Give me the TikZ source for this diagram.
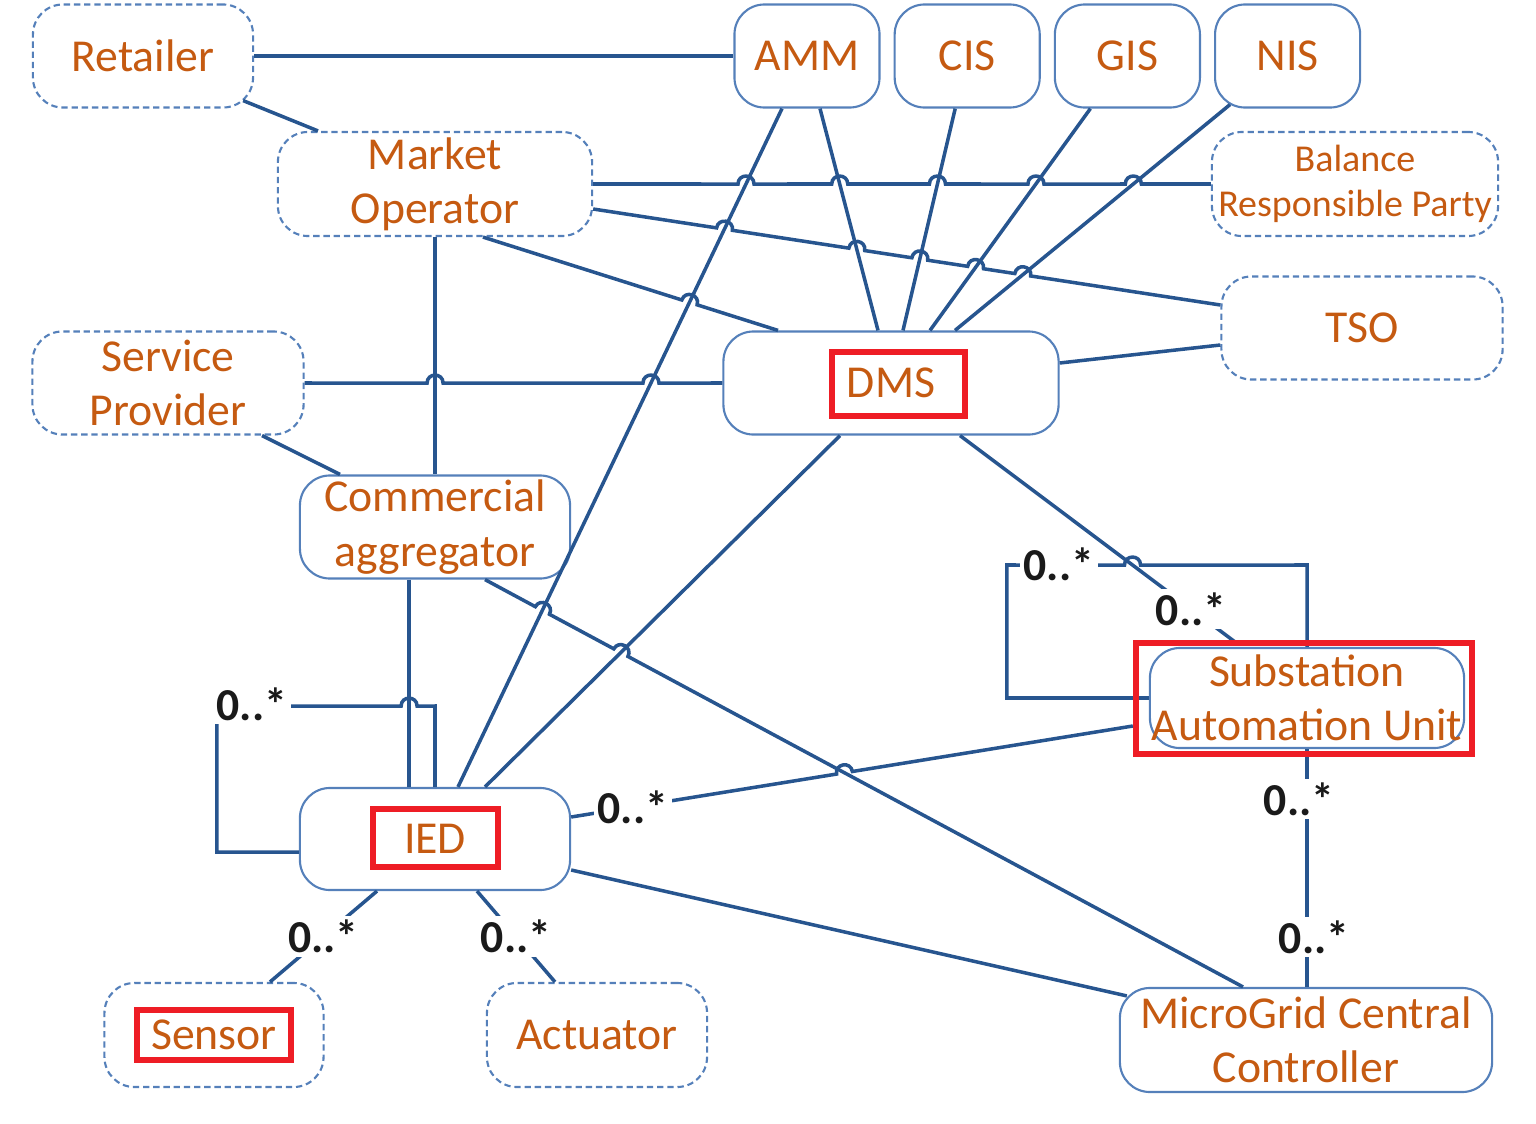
\documentclass[tikz,border=0pt]{standalone}
\usepackage{fontspec}
\setmainfont{Carlito}
\usetikzlibrary{positioning,calc}

\definecolor{linkblue}{HTML}{27558F}
\definecolor{boxblue}{HTML}{5580BA}
\definecolor{txtorange}{HTML}{C55A11}
\definecolor{hlred}{HTML}{EE1D25}
\definecolor{multblack}{HTML}{1A1A1A}

% line hop over a crossing point #1, on a line from #2 to #3
\newcommand{\hopover}[3]{-- ($(#1)!0.08cm!(#2)$) to[hop] ($(#1)!0.08cm!(#3)$)}

\begin{document}
\begin{tikzpicture}[x=0.01cm, y=-0.01cm,
    roundbox/.style={rectangle, rounded corners=0.3cm, draw=boxblue, line width=0.6pt, text=txtorange, font=\fontsize{13}{15.4}\selectfont, align=center, inner sep=0pt},
    dashbox/.style={roundbox, dash pattern=on 1.8pt off 1.1pt},
    link/.style={draw=linkblue, line width=1pt},
    hop/.style={bend left=90, looseness=1.7},
    mult/.style={fill=white, text=multblack, font=\fontsize{13}{15}\selectfont\bfseries, inner sep=1pt},
    hlbox/.style={draw=hlred, line width=1.9pt}
    ]
        \useasboundingbox (0,0) rectangle (1536,1124);

        %Nodes
        \node[dashbox, minimum width=2.2cm, minimum height=1.03cm]
            (ret) at (143,56) {Retailer};
        \node[dashbox, minimum width=3.14cm, minimum height=1.04cm]
            (mo) at (435,184) {Market\\Operator};
        \node[dashbox, minimum width=2.71cm, minimum height=1.03cm]
            (sp) at (168,383) {Service\\Provider};
        \node[roundbox, minimum width=2.7cm, minimum height=1.03cm]
            (ca) at (435,527) {Commercial\\aggregator};
        \node[roundbox, minimum width=2.7cm, minimum height=1.02cm]
            (ied) at (435,839) {IED};
        \node[dashbox, minimum width=2.19cm, minimum height=1.04cm]
            (sen) at (214,1035) {Sensor};
        \node[dashbox, minimum width=2.2cm, minimum height=1.04cm]
            (act) at (597,1035) {Actuator};
        \node[roundbox, minimum width=1.45cm, minimum height=1.03cm]
            (amm) at (807,56) {AMM};
        \node[roundbox, minimum width=1.45cm, minimum height=1.03cm]
            (cis) [right=0.13cm of amm] {CIS};
        \node[roundbox, minimum width=1.45cm, minimum height=1.03cm]
            (gis) [right=0.13cm of cis] {GIS};
        \node[roundbox, minimum width=1.45cm, minimum height=1.03cm]
            (nis) [right=0.13cm of gis] {NIS};
        \node[dashbox, minimum width=2.86cm, minimum height=1.04cm, font=\fontsize{10.8}{13}\selectfont]
            (brp) at (1355,184) {Balance\\Responsible Party};
        \node[dashbox, minimum width=2.81cm, minimum height=1.03cm]
            (tso) at (1362,328) {TSO};
        \node[roundbox, minimum width=3.35cm, minimum height=1.03cm]
            (dms) at (891,383) {DMS};
        \node[roundbox, minimum width=3.14cm, minimum height=1cm]
            (sau) at (1307,698) {Substation\\Automation Unit};
        \node[roundbox, minimum width=3.72cm, minimum height=1.04cm]
            (mgcc) at (1306,1040) {MicroGrid Central\\Controller};

        %Ends
        \coordinate (retA) at ($(ret.south east)+(-11,-8)$);
        \coordinate (moA) at ($(mo.east)+(0,25)$);
        \coordinate (moB) at ($(mo.south)+(48,0)$);
        \coordinate (moC) at ($(mo.north)+(-117,0)$);
        \coordinate (spA) at ($(sp.south)+(94,0)$);
        \coordinate (caA) at ($(ca.north)+(-95,0)$);
        \coordinate (caB) at ($(ca.south)+(-26,0)$);
        \coordinate (caC) at ($(ca.south)+(50,0)$);
        \coordinate (ammA) at ($(amm.south)+(-25,0)$);
        \coordinate (ammB) at ($(amm.south)+(13,0)$);
        \coordinate (cisA) at ($(cis.south)+(-12,0)$);
        \coordinate (gisA) at ($(gis.south)+(-37,0)$);
        \coordinate (nisA) at ($(nis.south west)+(16,-4)$);
        \coordinate (tsoA) at ($(tso.west)+(0,-23)$);
        \coordinate (tsoB) at ($(tso.west)+(0,17)$);
        \coordinate (dmsA) at ($(dms.north)+(-113,0)$);
        \coordinate (dmsB) at ($(dms.north)+(-13,0)$);
        \coordinate (dmsC) at ($(dms.north)+(12,0)$);
        \coordinate (dmsD) at ($(dms.north)+(39,0)$);
        \coordinate (dmsE) at ($(dms.north)+(64,0)$);
        \coordinate (dmsF) at ($(dms.south)+(-51,0)$);
        \coordinate (dmsG) at ($(dms.south)+(69,0)$);
        \coordinate (dmsH) at ($(dms.east)+(0,-20)$);
        \coordinate (iedA) at ($(ied.north)+(-26,0)$);
        \coordinate (iedB) at ($(ied.north)+(23,0)$);
        \coordinate (iedC) at ($(ied.north)+(50,0)$);
        \coordinate (iedD) at ($(ied.east)+(0,-22)$);
        \coordinate (iedE) at ($(ied.east)+(0,31)$);
        \coordinate (iedF) at ($(ied.south)+(-58,0)$);
        \coordinate (iedG) at ($(ied.south)+(42,0)$);
        \coordinate (iedH) at ($(ied.west)+(0,13)$);
        \coordinate (iedL) at ($(iedH)+(-82,-146)$);
        \coordinate (iedR) at (ied.north |- iedL);
        \coordinate (sauA) at ($(sau.north)+(-72,-5)$);
        \coordinate (sauB) at ($(sau.west)+(-16,28)$);
        \coordinate (sauL) at ($(sau.west)+(-142,-133)$);
        \coordinate (sauR) at (sau.north |- sauL);
        \coordinate (senA) at ($(sen.north)+(56,0)$);
        \coordinate (actA) at ($(act.north)+(-42,0)$);
        \coordinate (mgA) at ($(mgcc.north)+(-63,0)$);
        \coordinate (mgB) at ($(mgcc.north west)+(8,9)$);

        %Crossings
        \coordinate (b1) at (intersection of mo.east--brp.west and ammA--iedB);
        \coordinate (b2) at (intersection of mo.east--brp.west and ammB--dmsB);
        \coordinate (b3) at (intersection of mo.east--brp.west and cisA--dmsC);
        \coordinate (b4) at (intersection of mo.east--brp.west and gisA--dmsD);
        \coordinate (b5) at (intersection of mo.east--brp.west and nisA--dmsE);
        \coordinate (t1) at (intersection of moA--tsoA and ammA--iedB);
        \coordinate (t2) at (intersection of moA--tsoA and ammB--dmsB);
        \coordinate (t3) at (intersection of moA--tsoA and cisA--dmsC);
        \coordinate (t4) at (intersection of moA--tsoA and gisA--dmsD);
        \coordinate (t5) at (intersection of moA--tsoA and nisA--dmsE);
        \coordinate (d1) at (intersection of moB--dmsA and ammA--iedB);
        \coordinate (s1) at (intersection of sp.east--dms.west and mo.south--ca.north);
        \coordinate (s2) at (intersection of sp.east--dms.west and ammA--iedB);
        \coordinate (c1) at (intersection of caC--mgA and ammA--iedB);
        \coordinate (c2) at (intersection of caC--mgA and dmsF--iedC);
        \coordinate (e1) at (intersection of iedD--sauB and caC--mgA);
        \coordinate (l1) at (intersection of iedL--iedR and caB--iedA);
        \coordinate (l2) at (intersection of sauL--sauR and dmsG--sauA);

        %Lines
        \draw[link] (ret.east) -- (amm.west);
        \draw[link] (retA) -- (moC);
        \draw[link] (mo.south) -- (ca.north);
        \draw[link] (spA) -- (caA);
        \draw[link] (ammA) -- (iedB);
        \draw[link] (ammB) -- (dmsB);
        \draw[link] (cisA) -- (dmsC);
        \draw[link] (gisA) -- (dmsD);
        \draw[link] (nisA) -- (dmsE);
        \draw[link] (dmsH) -- (tsoB);
        \draw[link] (dmsF) -- (iedC);
        \draw[link] (caB) -- (iedA);
        \draw[link] (iedE) -- (mgB);
        \draw[link] (dmsG) -- node[mult, pos=0.84] (m1) {0..*} (sauA);
        \draw[link] (iedF) -- node[mult] (m2) {0..*} (senA);
        \draw[link] (iedG) -- node[mult] (m3) {0..*} (actA);
        \draw[link] (sau.south) -- node[mult, pos=0.21, xshift=-0.08cm] (m4) {0..*}
            node[mult, pos=0.79, xshift=0.07cm] (m5) {0..*} (sau.south |- mgcc.north);

        %Lines with hops
        \draw[link] (mo.east) \hopover{b1}{mo.east}{brp.west} \hopover{b2}{mo.east}{brp.west}
            \hopover{b3}{mo.east}{brp.west} \hopover{b4}{mo.east}{brp.west}
            \hopover{b5}{mo.east}{brp.west} -- (brp.west);
        \draw[link] (moA) \hopover{t1}{moA}{tsoA} \hopover{t2}{moA}{tsoA} \hopover{t3}{moA}{tsoA}
            \hopover{t4}{moA}{tsoA} \hopover{t5}{moA}{tsoA} -- (tsoA);
        \draw[link] (moB) \hopover{d1}{moB}{dmsA} -- (dmsA);
        \draw[link] (sp.east) \hopover{s1}{sp.east}{dms.west} \hopover{s2}{sp.east}{dms.west} -- (dms.west);
        \draw[link] (caC) \hopover{c1}{caC}{mgA} \hopover{c2}{caC}{mgA} -- (mgA);
        \draw[link] (iedD) \hopover{e1}{iedD}{sauB} -- (sauB);
        \node[mult] (m6) at ($(iedD)!0.11!(sauB)$) {0..*};
        \draw[link] (iedH) -| (iedL) \hopover{l1}{iedL}{iedR} -- (iedR) -- (ied.north);
        \node[mult] (m7) at ($(iedL)+(35,-2)$) {0..*};
        \draw[link] (sau.west) -| (sauL) \hopover{l2}{sauL}{sauR} -- (sauR) -- (sau.north);
        \node[mult] (m8) at ($(sauL)+(52,-1)$) {0..*};

        %Highlights
        \draw[hlbox] (832,352) rectangle (965,416);
        \draw[hlbox] (373,809) rectangle (498,867);
        \draw[hlbox] (137,1010) rectangle (291,1060);
        \draw[hlbox] (1136,643) rectangle (1472,754);
\end{tikzpicture}
\end{document}
